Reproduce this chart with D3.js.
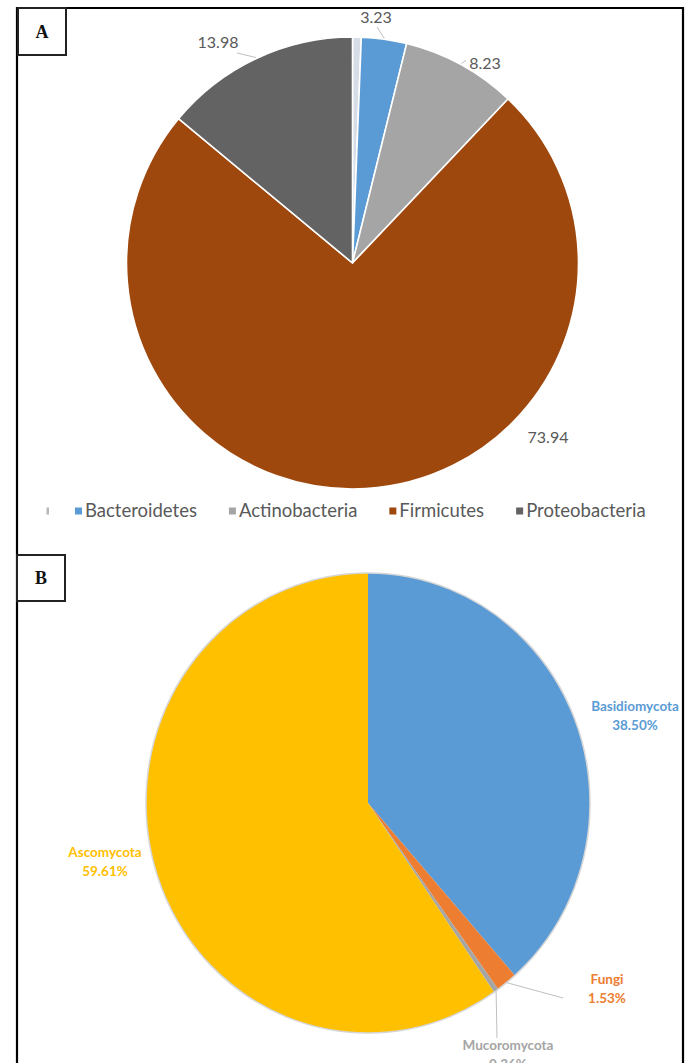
<!DOCTYPE html>
<html><head><meta charset="utf-8">
<script src="https://cdn.jsdelivr.net/npm/d3@7"></script>
<style>body{margin:0;background:#fff}svg{display:block}</style>
</head><body>
<svg id="fig" width="686" height="1063"></svg>
<script>
// Panel A: bacterial phyla, relative abundance (%)
const bacteriaNames = ["", "Bacteroidetes", "Actinobacteria", "Firmicutes", "Proteobacteria"];
const bacteriaValues = [0.62, 3.23, 8.23, 73.94, 13.98];
const bacteriaLabels = ["", "3.23", "8.23", "73.94", "13.98"];
const bacteriaColors = ["#d6dde6", "#5b9bd5", "#a5a5a5", "#9e480e", "#636363"];

// Panel B: fungal phyla, relative abundance (%)
const fungiNames = ["Basidiomycota", "Fungi", "Mucoromycota", "Ascomycota"];
const fungiValues = [38.50, 1.53, 0.36, 59.61];
const fungiLabels = ["38.50%", "1.53%", "0.36%", "59.61%"];
const fungiColors = ["#5b9bd5", "#ed7d31", "#a5a5a5", "#ffc000"];

const svg = d3.select("#fig");

// ---- frame and panel tags ----
svg.append("path").attr("d", "M17,1063V8H683V1063")
  .attr("fill", "none").attr("stroke", "#000").attr("stroke-width", 2.2);

function tag(x, y, w, h, letter) {
  svg.append("rect").attr("x", x).attr("y", y).attr("width", w).attr("height", h)
    .attr("fill", "#fff").attr("stroke", "#222").attr("stroke-width", 2);
  svg.append("text").attr("x", x + w / 2).attr("y", y + h / 2).attr("dy", "0.35em")
    .attr("text-anchor", "middle").attr("font-family", "Liberation Serif")
    .attr("font-weight", "bold").attr("font-size", 18).attr("fill", "#111").text(letter);
}
tag(18, 8, 48, 47, "A");
tag(17, 555, 48, 46, "B");

// ---- Panel A pie ----
const A = { cx: 352.5, cy: 263, r: 226 };
const pieA = d3.pie().sort(null).value(d => d.value)(
  bacteriaValues.map((v, i) => ({ value: v, name: bacteriaNames[i], label: bacteriaLabels[i], color: bacteriaColors[i] }))
);
const arcA = d3.arc().innerRadius(0).outerRadius(A.r);
const gA = svg.append("g").attr("transform", `translate(${A.cx},${A.cy})`);
gA.selectAll("path").data(pieA).join("path")
  .attr("d", arcA).attr("fill", d => d.data.color)
  .attr("stroke", "#fff").attr("stroke-width", 1.6).attr("stroke-linejoin", "round");

// label anchors relative to pie centre (text centre, optional leader end)
const labelPosA = [null,
  { x: 23.5, y: -246, lx: 24.5, ly: -236 },
  { x: 132.5, y: -200, lx: 113.5, ly: -203 },
  { x: 195.5, y: 174 },
  { x: -134.5, y: -221, lx: -115.5, ly: -210 }];

pieA.forEach((d, i) => {
  const p = labelPosA[i];
  if (!p || !d.data.label) return;
  const mid = (d.startAngle + d.endAngle) / 2;
  if (p.lx !== undefined) {
    gA.append("line")
      .attr("x1", (A.r + 1) * Math.sin(mid)).attr("y1", -(A.r + 1) * Math.cos(mid))
      .attr("x2", p.lx).attr("y2", p.ly)
      .attr("stroke", "#bfbfbf").attr("stroke-width", 1);
  }
  gA.append("text").attr("x", p.x).attr("y", p.y).attr("dy", "0.35em")
    .attr("text-anchor", "middle").attr("font-family", "Lato").attr("font-size", 16)
    .attr("fill", "#595959").text(d.data.label);
});

// ---- Panel A legend ----
svg.append("clipPath").attr("id", "legClip").append("rect")
  .attr("x", 46.5).attr("y", 495).attr("width", 620).attr("height", 30);
const legend = svg.append("g").attr("clip-path", "url(#legClip)");
let lx = 42;
const legY = 511;
bacteriaNames.forEach((name, i) => {
  legend.append("rect").attr("x", lx).attr("y", legY - 3.5).attr("width", 7).attr("height", 7)
    .attr("fill", i === 0 ? "#b8b8b8" : bacteriaColors[i]);
  if (name) {
    const t = legend.append("text").attr("x", lx + 10).attr("y", legY).attr("dy", "0.35em")
      .attr("font-family", "Lato").attr("font-size", 18.5).attr("fill", "#595959").text(name);
    lx += 10 + t.node().getComputedTextLength() + 32;
  } else {
    lx += 33;
  }
});

// ---- Panel B pie (slightly taller than wide) ----
const B = { cx: 368, cy: 803, rx: 222, ry: 230 };
const pieB = d3.pie().sort(null).value(d => d.value)(
  fungiValues.map((v, i) => ({ value: v, name: fungiNames[i], label: fungiLabels[i], color: fungiColors[i] }))
);
const arcB = d3.arc().innerRadius(0).outerRadius(B.rx);
const gB = svg.append("g").attr("transform", `translate(${B.cx},${B.cy})`);
gB.append("g").attr("transform", `scale(1,${B.ry / B.rx})`)
  .selectAll("path").data(pieB).join("path")
  .attr("d", arcB).attr("fill", d => d.data.color);
gB.append("ellipse").attr("rx", B.rx).attr("ry", B.ry)
  .attr("fill", "none").attr("stroke", "#d6d6d6").attr("stroke-width", 1.5);

const labelPosB = [
  { x: 267, y: -97 },
  { x: 239, y: 176, lx: 195, ly: 195 },
  { x: 140, y: 242, lx: 129, ly: 235 },
  { x: -263, y: 49 }];

pieB.forEach((d, i) => {
  const p = labelPosB[i];
  const mid = (d.startAngle + d.endAngle) / 2;
  if (p.lx !== undefined) {
    gB.append("line")
      .attr("x1", B.rx * Math.sin(mid)).attr("y1", -B.ry * Math.cos(mid))
      .attr("x2", p.lx).attr("y2", p.ly)
      .attr("stroke", "#bfbfbf").attr("stroke-width", 1);
  }
  const t = gB.append("text").attr("text-anchor", "middle").attr("font-family", "Lato")
    .attr("font-weight", "bold").attr("font-size", 13.5).attr("fill", d.data.color);
  t.append("tspan").attr("x", p.x).attr("y", p.y).attr("dy", "0.35em").text(d.data.name);
  t.append("tspan").attr("x", p.x).attr("y", p.y + 19).attr("dy", "0.35em").text(d.data.label);
});
</script>
</body></html>
